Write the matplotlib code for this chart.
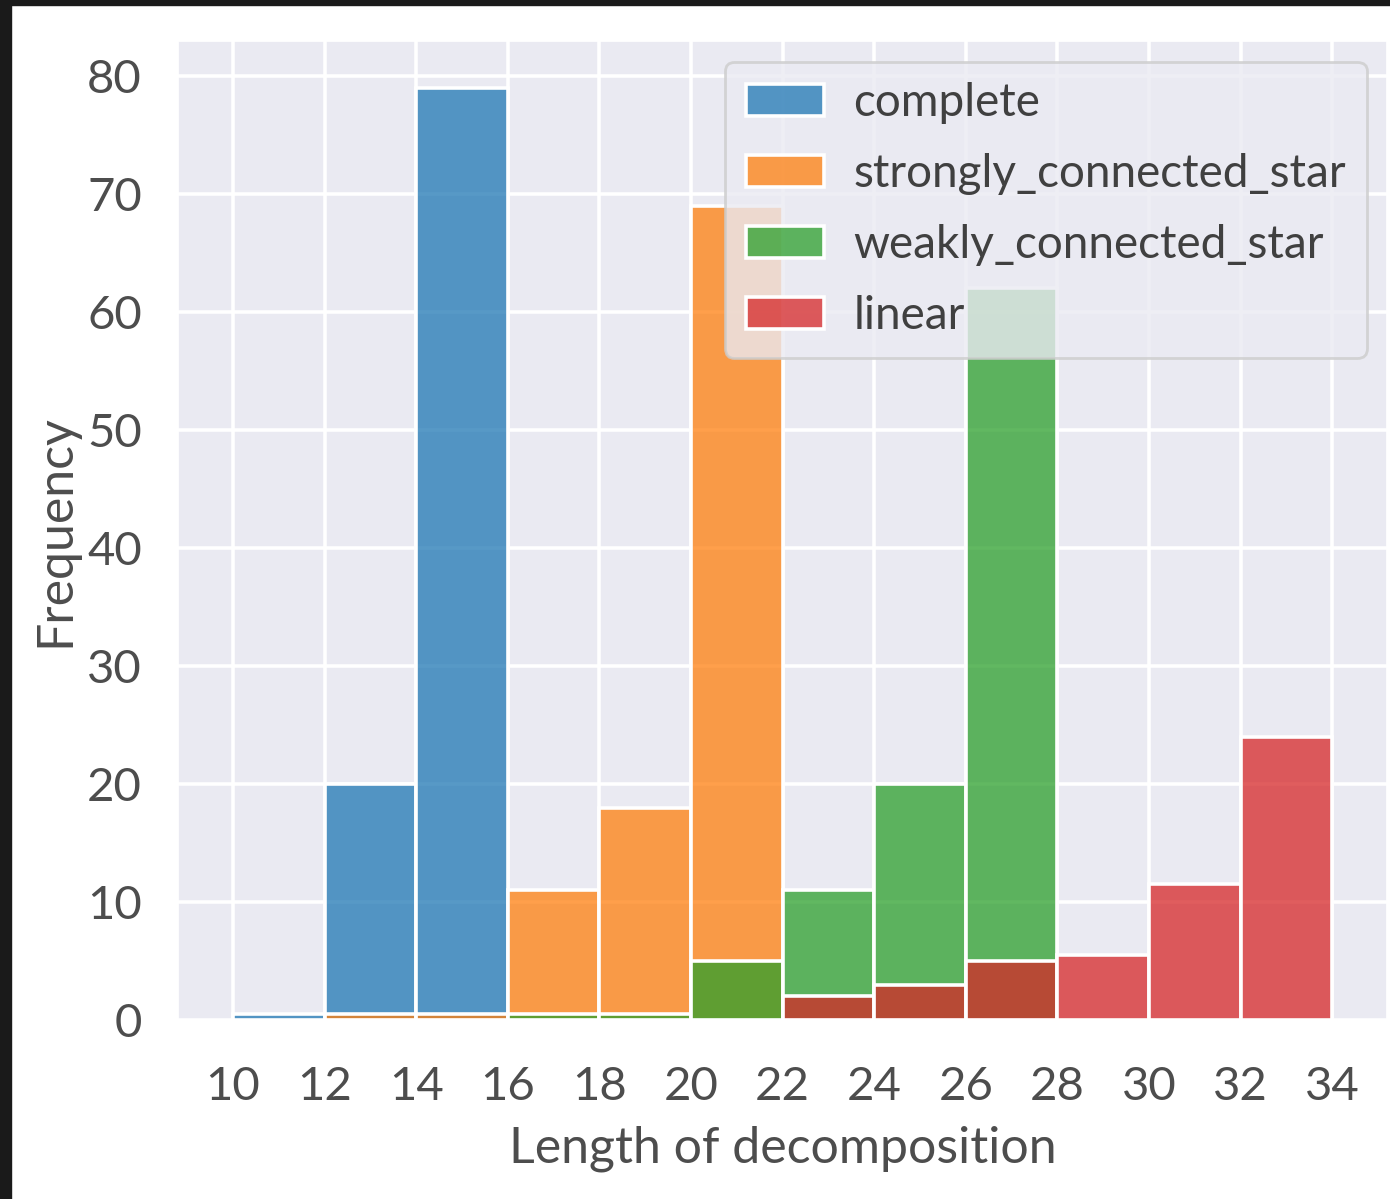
import matplotlib
matplotlib.use("Agg")
import matplotlib.pyplot as plt
import seaborn as sns
from matplotlib.patches import Rectangle
from matplotlib.colors import to_rgba

# ---- data (frequency per bin of width 2) ----
bin_edges = [10, 12, 14, 16, 18, 20, 22, 24, 26, 28, 30, 32, 34]
series_names = ["complete", "strongly_connected_star", "weakly_connected_star", "linear"]
complete = [0.5, 20, 79, 0, 0, 0, 0, 0, 0, 0, 0, 0]
strongly_connected_star = [0, 0.5, 0.5, 11, 18, 69, 0, 0, 0, 0, 0, 0]
weakly_connected_star = [0, 0, 0, 0.5, 0.5, 5, 11, 20, 62, 0, 0, 0]
linear = [0, 0, 0, 0, 0, 0, 2, 3, 5, 5.5, 11.5, 24]
xticks = list(range(10, 35, 2))
yticks = [0, 10, 20, 30, 40, 50, 60, 70, 80]

sns.set_theme(style="darkgrid")
plt.rcParams["font.family"] = ["Lato", "DejaVu Sans"]
plt.rcParams["grid.linewidth"] = 2.6

fig = plt.figure(figsize=(13.9, 11.99), dpi=100)
ax = fig.add_axes([0.128, 0.1493, 0.870, 0.8165])

colors = sns.color_palette("tab10", 4)
all_series = [complete, strongly_connected_star, weakly_connected_star, linear]
lefts = bin_edges[:-1]
for name, vals, col in zip(series_names, all_series, colors):
    xs = [l for l, v in zip(lefts, vals) if v > 0]
    hs = [v for v in vals if v > 0]
    ax.bar(xs, hs, width=2, align="edge", facecolor=to_rgba(col, 0.75),
           edgecolor="white", linewidth=2.6, label=name)

ax.set_xticks(xticks)
ax.set_yticks(yticks)
ax.tick_params(axis="both", labelsize=34, colors="0.3", pad=20)
ax.tick_params(axis="x", pad=27)
ax.set_xlabel("Length of decomposition", fontsize=36, color="0.3", labelpad=13)
ax.set_ylabel("Frequency", fontsize=36, color="0.3", labelpad=6)

leg = ax.legend(loc="upper right", fontsize=33, handlelength=1.7, handleheight=0.7,
                handletextpad=0.65, labelspacing=0.63, borderpad=0.45,
                borderaxespad=0.45, framealpha=0.8, labelcolor="0.25")
leg.get_frame().set_linewidth(2.0)

# dark screenshot frame (top and left)
W, H = 1390, 1199
fig.patches.append(Rectangle((0, 1 - 5 / H), 1, 5 / H, transform=fig.transFigure,
                             color="#1a1a1a", zorder=10))
fig.patches.append(Rectangle((0, 0), 11 / W, 1, transform=fig.transFigure,
                             color="#1a1a1a", zorder=10))

fig.savefig("out.png", dpi=100)
